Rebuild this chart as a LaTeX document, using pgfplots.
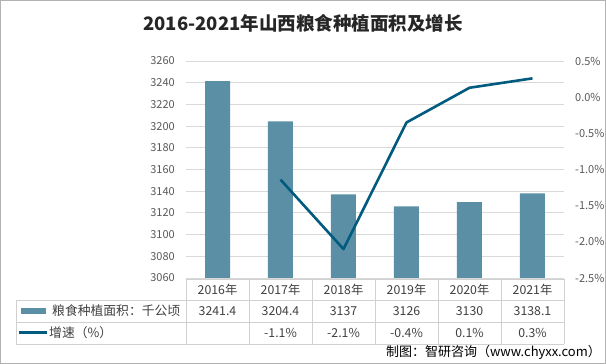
\documentclass[border=0pt]{standalone}
\usepackage{fontspec}
\setmainfont{Noto Sans CJK SC}
\usepackage{pgfplots}
\pgfplotsset{compat=1.18}
\definecolor{barc}{HTML}{5B8FA6}
\definecolor{linec}{HTML}{005B7F}
\definecolor{txt}{HTML}{595959}
\definecolor{tabtxt}{HTML}{404040}
\definecolor{gridc}{HTML}{D9D9D9}
\definecolor{tabline}{HTML}{D0D0D0}
\begin{document}
\begin{tikzpicture}[x=1pt,y=1pt]
\fill[white] (0,0) rectangle (606,364);
\draw[gray!60, line width=1pt] (0.5,0.5) rectangle (605.5,363.5);
\node[font=\fontsize{18.5}{20}\selectfont\bfseries, text=black!85] at (303,341) {2016-2021年山西粮食种植面积及增长};

\begin{axis}[at={(186pt,86pt)}, anchor=south west, scale only axis,
  width=378pt, height=217pt,
  xmin=-0.5, xmax=5.5, ymin=3060, ymax=3260,
  ytick={3060,3080,...,3260}, xtick=\empty,
  axis line style={draw=none}, tick style={draw=none},
  ymajorgrids, grid style={gridc, line width=0.8pt},
  /pgf/number format/assume math mode=true,
  /pgf/number format/1000 sep={},
  yticklabel style={font=\fontsize{11}{12}\selectfont, text=txt, inner sep=0pt, anchor=east, xshift=-11pt},
  clip=false]
\addplot[ybar, bar width=25pt, fill=barc, draw=none] coordinates {
(0,3241.4) (1,3204.4) (2,3137) (3,3126) (4,3130) (5,3138.1)};
\end{axis}

\begin{axis}[at={(186pt,86pt)}, anchor=south west, scale only axis,
  width=378pt, height=217pt,
  xmin=-0.5, xmax=5.5, ymin=-2.5, ymax=0.5,
  ytick={-2.5,-2,...,0.5}, xtick=\empty,
  axis y line*=right, axis x line=none,
  axis line style={draw=none}, tick style={draw=none},
  /pgf/number format/assume math mode=true,
  yticklabel={\pgfmathprintnumber[fixed,fixed zerofill,precision=1]{\tick}\%},
  yticklabel style={font=\fontsize{11}{12}\selectfont, text=txt, inner sep=0pt, anchor=west, xshift=11pt},
  clip=false]
\addplot[linec, line width=2.6pt, line join=round] coordinates {
(1,-1.14) (2,-2.10) (3,-0.35) (4,0.13) (5,0.26)};
\end{axis}

% data table
\draw[tabline, line width=0.8pt] (186,85) -- (564,85);
\draw[tabline, line width=0.8pt] (16,63.5) -- (564,63.5);
\draw[tabline, line width=0.8pt] (16,42) -- (564,42);
\draw[tabline, line width=0.8pt] (16,20) -- (564,20);
\draw[tabline, line width=0.8pt] (16,63.5) -- (16,20);
\foreach \xx in {186,249,312,375,438,501,564} {
  \draw[tabline, line width=0.8pt] (\xx,85) -- (\xx,20);
}
\begin{scope}[every node/.style={font=\fontsize{12.3}{13}\selectfont, text=tabtxt, inner sep=0pt}]
\foreach \i/\yr/\v/\g in {0/2016/3241.4/, 1/2017/3204.4/-1.1\%, 2/2018/3137/-2.1\%, 3/2019/3126/-0.4\%, 4/2020/3130/0.1\%, 5/2021/3138.1/0.3\%} {
  \node at (217.5+63*\i,74) {\yr 年};
  \node at (217.5+63*\i,52.5) {\v};
  \node at (217.5+63*\i,31) {\g};
}
\fill[barc] (21,50) rectangle (46,56);
\draw[linec, line width=2.6pt] (19,31.5) -- (47,31.5);
\node[anchor=west, font=\fontsize{12.8}{13}\selectfont] at (52,53) {粮食种植面积：千公顷};
\node[anchor=west, font=\fontsize{12.8}{13}\selectfont] at (49,31.5) {增速（\%）};
\end{scope}
\node[anchor=east, font=\fontsize{13}{14}\selectfont, text=black, inner sep=0pt] at (601,12) {制图：智研咨询（www.chyxx.com）};
\end{tikzpicture}
\end{document}
